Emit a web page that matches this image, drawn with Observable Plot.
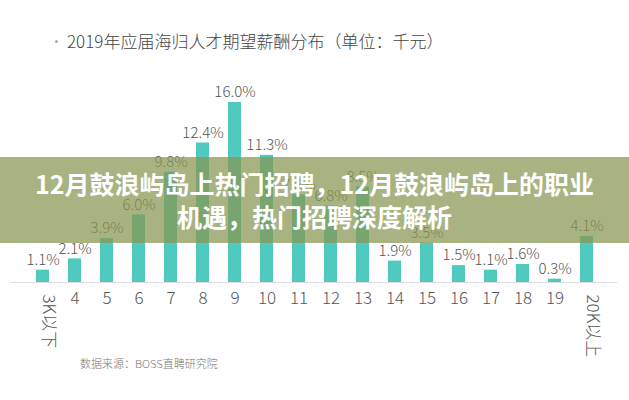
<!DOCTYPE html>
<html><head><meta charset="utf-8">
<script src="https://cdn.jsdelivr.net/npm/d3@7"></script>
<script src="https://cdn.jsdelivr.net/npm/@observablehq/plot@0.6"></script>
<style>
body{margin:0;background:#fff;}
#wrap{position:relative;width:629px;height:400px;overflow:hidden;font-family:"Noto Sans CJK SC","Noto Sans",sans-serif;background:#fff;}
#chart{position:absolute;left:0;top:0;}
#title{position:absolute;left:67px;top:31px;font-size:17px;line-height:20px;color:#444;font-weight:300;white-space:nowrap;}
#dot{position:absolute;left:55px;top:40px;width:3px;height:3px;border-radius:50%;background:#aaa;}
#source{position:absolute;left:80px;top:355px;font-size:11px;line-height:16px;color:#777;font-weight:300;white-space:nowrap;}
#banner{position:absolute;left:0;top:157px;width:629px;height:86px;background:rgba(135,150,80,0.72);display:flex;align-items:center;justify-content:center;}
#banner div{color:#fff;font-weight:700;font-size:25px;line-height:33px;text-align:center;white-space:nowrap;}
</style></head><body>
<div id="wrap">
<div id="chart"></div>
<div id="dot"></div>
<div id="title"></div>
<div id="source"></div>
<div id="banner"><div id="bannerText"></div></div>
</div>
<script>
const chartTitle = "2019年应届海归人才期望薪酬分布（单位：千元）";
const sourceText = "数据来源：BOSS直聘研究院";
const bannerLines = ["12月鼓浪屿岛上热门招聘，12月鼓浪屿岛上的职业", "机遇，热门招聘深度解析"];
const categories = ["3K以下","4","5","6","7","8","9","10","11","12","13","14","15","16","17","18","19","20K以上"];
const values = [1.1,2.1,3.9,6.0,9.8,12.4,16.0,11.3,7.8,6.8,8.5,1.9,3.5,1.5,1.1,1.6,0.3,4.1];
const rotatedLabels = ["3K以下","20K以上"];

const data = categories.map((c, i) => ({cat: c, value: values[i]}));
const font = '"Noto Sans CJK SC","Noto Sans",sans-serif';

const chart = Plot.plot({
  width: 629,
  height: 400,
  marginLeft: 11,
  marginRight: 12,
  marginTop: 102,
  marginBottom: 118,
  style: {fontFamily: font, background: "transparent"},
  x: {type: "band", domain: categories, paddingInner: 0.6, paddingOuter: 0.5, axis: null},
  y: {domain: [0, 16], nice: false, axis: null},
  marks: [
    Plot.barY(data, {x: "cat", y: "value", fill: "#50c9bf"}),
    Plot.ruleY([0], {stroke: "#dcdcdc", strokeWidth: 1}),
    Plot.text(data, {x: "cat", y: "value", text: d => d.value.toFixed(1) + "%", dy: -10, fontSize: 15, fill: "#555", fontWeight: 300}),
    Plot.text(data.filter(d => !rotatedLabels.includes(d.cat)), {x: "cat", text: "cat", frameAnchor: "bottom", dy: 21, fontSize: 17, fill: "#555", fontWeight: 300}),
    Plot.text(data.filter(d => rotatedLabels.includes(d.cat)), {x: "cat", text: "cat", frameAnchor: "bottom", dy: 12, rotate: 90, textAnchor: "start", fontSize: 17, fill: "#555", fontWeight: 300})
  ]
});
document.getElementById("chart").appendChild(chart);
document.getElementById("title").textContent = chartTitle;
document.getElementById("source").textContent = sourceText;
document.getElementById("bannerText").innerHTML = bannerLines.map(s => s.replace(/&/g,"&amp;").replace(/</g,"&lt;")).join("<br>");
</script>
</body></html>
